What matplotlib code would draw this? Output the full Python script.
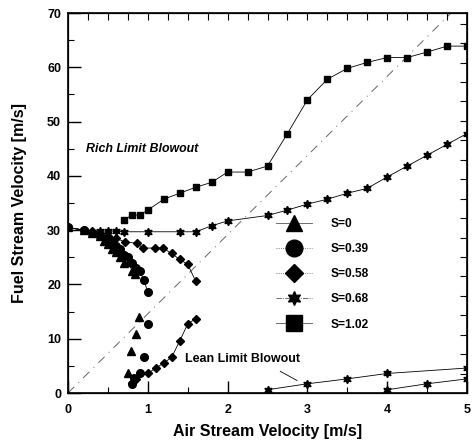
import numpy as np
import matplotlib
matplotlib.use("Agg")
import matplotlib.pyplot as plt
from matplotlib.lines import Line2D

plt.rcParams['font.family'] = ['Liberation Sans', 'DejaVu Sans']

# ---------------- data ----------------
s0_up_x = [0, 0.2, 0.3, 0.4, 0.45, 0.5, 0.55, 0.6, 0.65, 0.7, 0.76, 0.8, 0.84]
s0_up_y = [30.5, 30, 29.5, 29, 28, 27.5, 26.5, 26, 25, 24, 24.2, 22.5, 21.9]
s0_lo_x = [0.75, 0.79, 0.85, 0.89]
s0_lo_y = [3.7, 7.7, 10.8, 14.0]

s039_up_x = [0, 0.2, 0.3, 0.4, 0.5, 0.55, 0.6, 0.65, 0.7, 0.75, 0.8, 0.85, 0.9, 0.95, 1.0]
s039_up_y = [30.5, 30, 29.5, 29, 28.5, 28, 27, 26.5, 25.5, 25, 24, 23, 22.5, 20.8, 18.6]
s039_lo_x = [0.8, 0.83, 0.9, 0.95, 1.0]
s039_lo_y = [1.7, 2.8, 3.7, 6.7, 12.7]

s058_up_x = [0, 0.2, 0.3, 0.4, 0.5, 0.6, 0.72, 0.86, 0.94, 1.09, 1.19, 1.3, 1.4, 1.5, 1.6]
s058_up_y = [30.5, 30, 29.8, 29.5, 29, 28.5, 27.8, 27.6, 26.7, 26.7, 26.7, 25.7, 24.6, 23.7, 20.6]
s058_lo_x = [0.8, 0.85, 0.9, 1.0, 1.1, 1.2, 1.3, 1.4, 1.5, 1.6]
s058_lo_y = [1.8, 2.6, 3.6, 3.6, 4.6, 5.5, 6.6, 9.6, 12.7, 13.7]

s068_up_x = [0, 0.2, 0.4, 0.5, 0.6, 0.7, 1.0, 1.4, 1.6, 1.8, 2.0, 2.5, 2.75, 3.0,
             3.25, 3.5, 3.75, 4.0, 4.25, 4.5, 4.75, 5.0]
s068_up_y = [30.5, 30, 29.8, 29.8, 29.8, 29.7, 29.7, 29.7, 29.7, 30.8, 31.7, 32.7, 33.7, 34.8,
             35.7, 36.8, 37.7, 39.8, 41.8, 43.8, 45.8, 47.8]
s068_lo_x = [2.5, 3.0, 3.5, 4.0, 5.0]
s068_lo_y = [0.6, 1.7, 2.6, 3.6, 4.6]

s102_up_x = [0.7, 0.8, 0.9, 1.0, 1.2, 1.4, 1.6, 1.8, 2.0, 2.25, 2.5, 2.75, 3.0,
             3.25, 3.5, 3.75, 4.0, 4.25, 4.5, 4.75, 5.0]
s102_up_y = [31.8, 32.8, 32.8, 33.7, 35.7, 36.8, 37.9, 38.8, 40.7, 40.7, 41.8, 47.8, 54.0,
             57.8, 59.8, 60.9, 61.8, 61.8, 62.8, 63.9, 63.9]
s102_lo_x = [4.0, 4.5, 5.0]
s102_lo_y = [0.6, 1.7, 2.6]

diag_x = [0, 4.8]
diag_y = [0, 70]

legend_labels = ['S=0', 'S=0.39', 'S=0.58', 'S=0.68', 'S=1.02']
x_ticks = [0, 1, 2, 3, 4, 5]
y_ticks = [0, 10, 20, 30, 40, 50, 60, 70]

# ---------------- figure ----------------
fig = plt.figure(figsize=(4.74, 4.42), dpi=100)
ax = fig.add_axes([68/474, 1-393/442, (467-68)/474, (393-13)/442])
ax.set_xlim(0, 5)
ax.set_ylim(0, 70)

hexstar = (6, 1, 0)
ms = 5
lw = 0.6

ax.plot(diag_x, diag_y, color='#666666', lw=0.7, ls=(0, (9, 6, 1, 6)))

def series(x, y, marker, ls='-', size=ms, color='black'):
    ax.plot(x, y, color=color, lw=lw, ls=ls, marker=marker, markersize=size,
            markerfacecolor='black', markeredgecolor='black')

series(s0_up_x, s0_up_y, '^', '-', 5.5)
series(s0_lo_x, s0_lo_y, '^', 'none', 5.5)
series(s039_up_x, s039_up_y, 'o', '-', 5.5)
series(s039_lo_x, s039_lo_y, 'o', 'none', 5.5)
series(s058_up_x, s058_up_y, 'D', '-', 4.5)
series(s058_lo_x, s058_lo_y, 'D', '-', 4.5)
series(s068_up_x, s068_up_y, hexstar, '-', 6.0)
series(s068_lo_x, s068_lo_y, hexstar, '-', 6.0)
series(s102_up_x, s102_up_y, 's', '-', 4.8)
series(s102_lo_x, s102_lo_y, hexstar, '-', 6.0)

# annotations
ax.text(0.23, 44.9, 'Rich Limit Blowout', fontsize=8.9, fontweight='bold',
        fontstyle='italic', va='center', ha='left')
ax.text(1.47, 6.3, 'Lean Limit Blowout', fontsize=8.9, fontweight='bold',
        va='center', ha='left')
ax.plot([2.66, 2.87], [4.0, 2.3], color='black', lw=0.6)

# legend
handles = [
    Line2D([], [], color='#555555', lw=0.6, ls='-', marker='^', markersize=11, mfc='black', mec='black'),
    Line2D([], [], color='#555555', lw=0.6, ls=':', marker='o', markersize=12, mfc='black', mec='black'),
    Line2D([], [], color='#555555', lw=0.6, ls=':', marker='D', markersize=9, mfc='black', mec='black'),
    Line2D([], [], color='#555555', lw=0.6, ls='-.', marker=hexstar, markersize=10, mfc='black', mec='black'),
    Line2D([], [], color='#555555', lw=0.6, ls='-', marker='s', markersize=12, mfc='black', mec='black'),
]
leg = ax.legend(handles, legend_labels, loc='upper left', bbox_to_anchor=((270-68)/399, (393-212)/380),
                frameon=False, fontsize=8.6, handlelength=3.0, handletextpad=1.6,
                labelspacing=1.1, borderpad=0)
for t in leg.get_texts():
    t.set_fontweight('bold')

# ticks
ax.set_xticks(x_ticks)
ax.set_yticks(y_ticks)
ax.set_xticks(np.arange(0.5, 5, 1.0), minor=True)
ax.set_yticks(np.arange(5, 70, 10), minor=True)
ax.tick_params(which='major', direction='in', length=9, width=1.0, labelsize=9, pad=5)
ax.tick_params(axis='x', which='major', pad=8)
ax.tick_params(which='minor', direction='in', length=4, width=0.8)
for lab in ax.get_xticklabels() + ax.get_yticklabels():
    lab.set_fontweight('bold')

for sp in ax.spines.values():
    sp.set_linewidth(1.2)

# top ticks
axt = ax.twiny()
axt.set_xlim(0, 5)
axt.set_xticks(np.arange(0.25, 5, 0.25))
axt.tick_params(direction='in', length=5, width=0.8, labeltop=False)
# right ticks
axr = ax.twinx()
axr.set_ylim(0, 70)
axr.set_yticks(np.arange(3.58, 70, 3.58))
axr.tick_params(direction='in', length=5, width=0.8, labelright=False)

ax.set_xlabel('Air Stream Velocity [m/s]', fontsize=11.5, fontweight='bold', labelpad=6)
ax.set_ylabel('Fuel Stream Velocity [m/s]', fontsize=11.5, fontweight='bold', labelpad=14)

fig.savefig('out.png', dpi=100)
